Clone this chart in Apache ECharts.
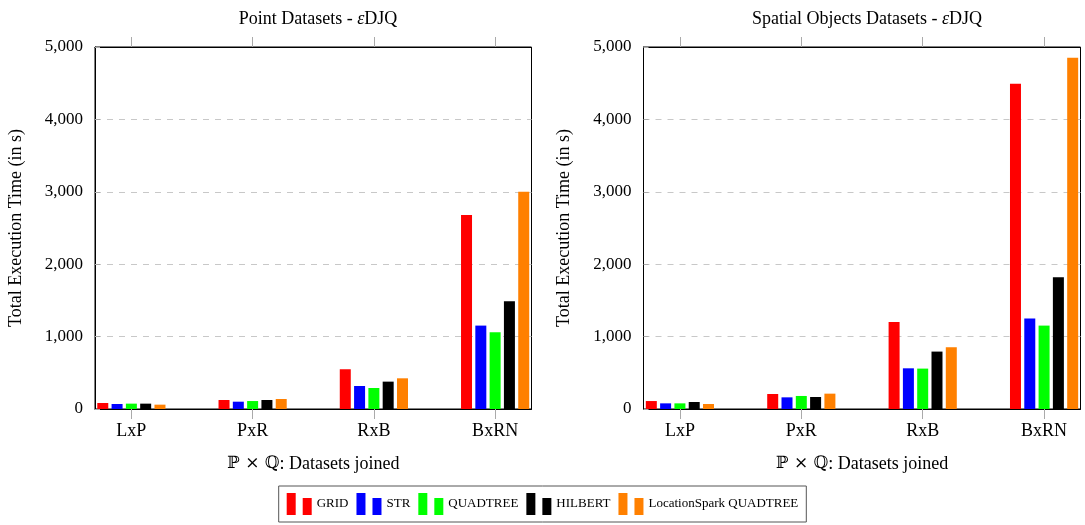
<!DOCTYPE html>
<html><head><meta charset="utf-8">
<script src="https://cdn.jsdelivr.net/npm/echarts@6/dist/echarts.min.js"></script>
<style>html,body{margin:0;padding:0;background:#fff}#c{width:1085px;height:525px}</style>
</head><body><div id="c"></div>
<script>
const categories = ['LxP', 'PxR', 'RxB', 'BxRN'];
const seriesNames = ['GRID', 'STR', 'QUADTREE', 'HILBERT', 'LocationSpark QUADTREE'];
const colors = ['#ff0000', '#0000ff', '#00ff00', '#000000', '#ff8000'];
const yTicks = [0, 1000, 2000, 3000, 4000, 5000];
const yTickLabels = ['0', '1,000', '2,000', '3,000', '4,000', '5,000'];

// Point Datasets - eDJQ
const pointGRID = [83, 124, 549, 2680];
const pointSTR = [69, 101, 318, 1152];
const pointQUADTREE = [74, 110, 290, 1060];
const pointHILBERT = [74, 124, 378, 1489];
const pointLSQUADTREE = [60, 138, 424, 3000];

// Spatial Objects Datasets - eDJQ
const spatialGRID = [110, 207, 1203, 4493];
const spatialSTR = [78, 161, 562, 1249];
const spatialQUADTREE = [78, 180, 558, 1152];
const spatialHILBERT = [97, 166, 793, 1821];
const spatialLSQUADTREE = [69, 212, 853, 4853];

const pointSeries = [pointGRID, pointSTR, pointQUADTREE, pointHILBERT, pointLSQUADTREE];
const spatialSeries = [spatialGRID, spatialSTR, spatialQUADTREE, spatialHILBERT, spatialLSQUADTREE];

const FONT = 'Liberation Serif';
const FS = 17;
const catIdx = categories.map((c, i) => i);

function xAxisBottom(gi) {
  return {
    type: 'value', gridIndex: gi, min: -0.3, max: 3.3, position: 'bottom',
    axisLine: { show: true, onZero: false, lineStyle: { color: '#000', width: 1 } },
    axisTick: { show: true, customValues: catIdx, length: 10, lineStyle: { color: '#aaa' } },
    axisLabel: { customValues: catIdx, formatter: v => categories[Math.round(v)], color: '#000', fontFamily: FONT, fontSize: 18, margin: 13 },
    splitLine: { show: false },
    name: '{m|ℙ × ℚ}: Datasets joined', nameLocation: 'middle', nameGap: 46,
    nameTextStyle: { color: '#000', fontFamily: FONT, fontSize: 18, rich: { m: { fontFamily: 'DejaVu Serif', fontSize: 17, color: '#000' } } }
  };
}
function xAxisTop(gi) {
  return {
    type: 'value', gridIndex: gi, min: -0.3, max: 3.3, position: 'top',
    axisLine: { show: true, onZero: false, lineStyle: { color: '#000', width: 1 } },
    axisTick: { show: true, customValues: catIdx, length: 10, lineStyle: { color: '#aaa' } },
    axisLabel: { show: false, customValues: catIdx },
    splitLine: { show: false }
  };
}
function yAxis(gi) {
  return {
    type: 'value', gridIndex: gi, min: 0, max: 5000, interval: 1000,
    axisLine: { show: true, onZero: false, lineStyle: { color: '#000', width: 1 } },
    axisTick: { show: true, inside: true, length: 5, lineStyle: { color: '#aaa' } },
    axisLabel: { color: '#000', fontFamily: FONT, fontSize: FS, margin: 12,
      formatter: v => yTickLabels[yTicks.indexOf(v)] },
    splitLine: { show: true, lineStyle: { color: '#c8c8c8', type: [6, 6], width: 1 } },
    name: 'Total Execution Time (in s)', nameLocation: 'middle', nameGap: 70,
    nameTextStyle: { color: '#000', fontFamily: FONT, fontSize: 18 }
  };
}

const series = [];
[pointSeries, spatialSeries].forEach((group, gi) => {
  group.forEach((vals, si) => {
    series.push({
      type: 'bar', name: seriesNames[si], xAxisIndex: gi * 2, yAxisIndex: gi,
      data: vals.map((v, i) => [catIdx[i], v]),
      barWidth: 11, barGap: '30%',
      itemStyle: { color: colors[si] },
      emphasis: { disabled: true }
    });
  });
});

const titleRich = {
  n: { fontFamily: FONT, fontSize: 18, fontWeight: 'normal', color: '#000' },
  i: { fontFamily: FONT, fontStyle: 'italic', fontWeight: 'normal', fontSize: 18, color: '#000' }
};

const chart = echarts.init(document.getElementById('c'), null, { renderer: 'canvas' });
chart.setOption({
  animation: false,
  backgroundColor: '#fff',
  color: colors,
  title: [
    { text: '{n|Point Datasets - }{i|ε}{n|DJQ}', left: 313, top: 5, textAlign: 'center',
      textStyle: { fontWeight: 'normal', rich: titleRich } },
    { text: '{n|Spatial Objects Datasets - }{i|ε}{n|DJQ}', left: 862, top: 5, textAlign: 'center',
      textStyle: { fontWeight: 'normal', rich: titleRich } }
  ],
  grid: [
    { left: 95, top: 47, width: 436.5, height: 362, show: true, borderColor: '#000', borderWidth: 1, containLabel: false },
    { left: 643.5, top: 47, width: 437, height: 362, show: true, borderColor: '#000', borderWidth: 1, containLabel: false }
  ],
  xAxis: [xAxisBottom(0), xAxisTop(0), xAxisBottom(1), xAxisTop(1)],
  yAxis: [yAxis(0), yAxis(1)],
  legend: {
    data: seriesNames, left: 'center', bottom: 3,
    icon: 'path://M0,0h9v22h-9zM16,5h9v17h-9z',
    itemWidth: 25, itemHeight: 22, itemGap: 8,
    borderColor: '#555', borderWidth: 1, padding: [7, 8],
    textStyle: { fontFamily: FONT, fontSize: 13, color: '#000' }
  },
  series: series
});
</script></body></html>
